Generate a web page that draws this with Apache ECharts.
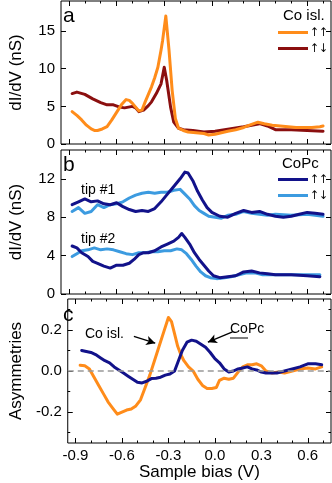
<!DOCTYPE html>
<html>
<head>
<meta charset="utf-8">
<script src="https://cdn.jsdelivr.net/npm/echarts@6/dist/echarts.min.js"></script>
<style>
  html, body { margin: 0; padding: 0; background: #fff; }
  #chart { width: 332px; height: 483px; }
</style>
</head>
<body>
<div id="chart"></div>
<script>
// panel a: Co island, dI/dV (nS)
var aUpUpX   = [-0.88,-0.85,-0.82,-0.79,-0.76,-0.74,-0.72,-0.69,-0.66,-0.63,-0.60,-0.57,-0.54,-0.52,-0.50,-0.48,-0.46,-0.44,-0.42,-0.40,-0.38,-0.36,-0.34,-0.32,-0.31,-0.29,-0.27,-0.25,-0.23,-0.21,-0.18,-0.15,-0.10,-0.05,-0.02,0.02,0.06,0.10,0.15,0.20,0.25,0.29,0.33,0.38,0.43,0.48,0.53,0.58,0.63,0.68,0.70];
var aUpUpY   = [4.3,3.8,3.2,2.5,2.0,1.8,1.8,2.0,2.3,3.2,4.2,5.2,5.9,5.8,5.4,4.9,4.4,4.5,5.6,6.6,7.6,8.8,10.2,12.5,13.8,17.0,12.5,7.1,3.4,2.1,1.8,1.6,1.5,1.4,1.2,1.3,1.5,1.7,1.9,2.2,2.6,2.9,2.7,2.5,2.4,2.3,2.2,2.2,2.2,2.3,2.4];
var aUpDownX = [-0.88,-0.85,-0.80,-0.75,-0.70,-0.66,-0.62,-0.58,-0.55,-0.50,-0.48,-0.46,-0.43,-0.40,-0.38,-0.35,-0.32,-0.30,-0.285,-0.26,-0.24,-0.21,-0.18,-0.12,-0.05,0.02,0.11,0.20,0.30,0.35,0.40,0.50,0.60,0.70];
var aUpDownY = [6.7,6.9,6.6,6.0,5.5,5.2,5.2,4.9,4.8,5.0,4.8,4.3,4.5,5.1,5.6,6.7,8.0,10.2,8.5,4.9,2.9,2.1,1.9,1.8,1.6,1.7,2.0,2.3,2.7,2.4,1.9,1.9,1.8,1.7];

// panel b: CoPc, dI/dV (nS), two tips
var bUpUp1X = [-0.88,-0.84,-0.80,-0.76,-0.72,-0.68,-0.64,-0.60,-0.56,-0.52,-0.48,-0.44,-0.40,-0.36,-0.32,-0.28,-0.24,-0.20,-0.17,-0.15,-0.12,-0.09,-0.06,-0.03,0.00,0.05,0.10,0.15,0.20,0.25,0.30,0.35,0.40,0.45,0.50,0.55,0.60,0.65,0.70];
var bUpUp1Y = [9.3,9.6,9.9,9.6,9.7,9.4,9.3,9.5,9.1,8.8,8.6,8.7,8.6,8.9,9.6,10.4,11.2,12.0,12.7,12.6,11.8,10.7,9.8,9.0,8.5,8.1,8.0,8.4,8.7,8.5,8.6,8.3,8.1,8.0,8.1,8.3,8.5,8.4,8.3];
var bUpDown1X = [-0.88,-0.84,-0.80,-0.76,-0.72,-0.68,-0.64,-0.60,-0.56,-0.52,-0.48,-0.44,-0.40,-0.36,-0.32,-0.28,-0.24,-0.20,-0.17,-0.14,-0.11,-0.08,-0.05,-0.02,0.02,0.06,0.10,0.15,0.20,0.25,0.30,0.35,0.40,0.50,0.60,0.70];
var bUpDown1Y = [8.6,9.0,8.4,8.6,9.3,9.0,9.3,9.4,9.6,10.0,10.3,10.5,10.6,10.5,10.6,10.6,10.8,10.9,10.4,9.9,9.2,8.7,8.4,8.1,8.0,7.9,8.2,8.3,8.6,8.4,8.3,8.2,8.3,8.2,8.3,8.1];
var bUpUp2X = [-0.88,-0.85,-0.82,-0.78,-0.75,-0.72,-0.68,-0.64,-0.60,-0.56,-0.52,-0.49,-0.46,-0.43,-0.40,-0.36,-0.32,-0.28,-0.24,-0.21,-0.19,-0.17,-0.14,-0.11,-0.08,-0.05,-0.02,0.01,0.05,0.10,0.15,0.20,0.25,0.30,0.35,0.40,0.50,0.60,0.68];
var bUpUp2Y = [5.0,4.8,4.3,3.9,3.4,3.2,2.9,2.7,3.0,3.0,3.2,3.6,4.1,4.3,4.3,4.5,4.9,5.2,5.5,5.9,6.3,5.9,5.2,4.3,3.6,3.0,2.4,1.9,1.7,1.8,1.9,2.3,2.4,2.2,2.1,2.0,2.0,1.9,1.8];
var bUpDown2X = [-0.88,-0.85,-0.82,-0.78,-0.74,-0.70,-0.66,-0.62,-0.58,-0.54,-0.50,-0.46,-0.42,-0.38,-0.34,-0.30,-0.26,-0.22,-0.19,-0.16,-0.13,-0.10,-0.07,-0.04,-0.01,0.03,0.08,0.12,0.17,0.22,0.27,0.32,0.40,0.50,0.60,0.68];
var bUpDown2Y = [3.9,4.2,4.5,4.6,4.8,4.6,4.7,4.6,4.4,4.2,4.1,4.3,4.3,4.4,4.4,4.5,4.5,4.7,4.6,4.2,3.6,2.9,2.3,1.9,1.7,1.6,1.7,1.8,2.0,2.2,2.2,2.0,2.0,2.0,2.0,2.0];

// panel c: asymmetries
var cCoX = [-0.87,-0.84,-0.81,-0.78,-0.75,-0.72,-0.69,-0.66,-0.63,-0.60,-0.57,-0.54,-0.51,-0.48,-0.45,-0.42,-0.39,-0.36,-0.33,-0.30,-0.28,-0.26,-0.24,-0.22,-0.20,-0.17,-0.14,-0.11,-0.08,-0.05,-0.02,0.01,0.03,0.06,0.09,0.12,0.15,0.18,0.21,0.24,0.27,0.30,0.33,0.37,0.41,0.45,0.50,0.55,0.60,0.65,0.69];
var cCoY = [0.028,0.025,0.01,-0.03,-0.07,-0.11,-0.15,-0.18,-0.21,-0.20,-0.19,-0.185,-0.17,-0.14,-0.08,-0.02,0.05,0.12,0.19,0.26,0.24,0.18,0.12,0.08,0.05,0.02,0.0,-0.04,-0.07,-0.085,-0.085,-0.08,-0.045,-0.035,-0.04,-0.035,-0.005,0.02,0.03,0.03,0.035,0.025,0.0,-0.01,-0.005,-0.01,0.0,0.01,0.015,0.01,0.02];
var cPcX = [-0.86,-0.83,-0.80,-0.77,-0.74,-0.71,-0.68,-0.65,-0.62,-0.59,-0.56,-0.53,-0.50,-0.47,-0.44,-0.41,-0.38,-0.35,-0.32,-0.29,-0.26,-0.24,-0.21,-0.18,-0.15,-0.12,-0.09,-0.06,-0.03,0.00,0.03,0.06,0.09,0.12,0.15,0.18,0.21,0.24,0.27,0.30,0.33,0.36,0.40,0.45,0.50,0.55,0.60,0.65,0.69];
var cPcY = [0.10,0.095,0.09,0.08,0.065,0.05,0.04,0.02,0.005,-0.01,-0.025,-0.04,-0.055,-0.058,-0.05,-0.037,-0.035,-0.03,-0.02,-0.015,0.0,0.04,0.10,0.14,0.15,0.145,0.13,0.115,0.09,0.06,0.04,0.01,-0.005,0.0,0.01,0.015,0.02,0.01,0.005,-0.005,-0.01,-0.01,-0.01,0.0,0.01,0.02,0.035,0.035,0.03];

// ticks
var xMajor = [-0.9,-0.6,-0.3,0,0.3,0.6];
var xMinor = [-0.8,-0.7,-0.5,-0.4,-0.2,-0.1,0.1,0.2,0.4,0.5,0.7];
var aYTicks = [0,5,10,15];
var bYTicks = [0,4,8,12];
var cYTicks = [-0.2,0,0.2];
var cYMinor = [-0.3,-0.1,0.1,0.3];

var ORANGE = '#ff8c1a', DARKRED = '#8b0f0f', NAVY = '#12128a', LIGHTBLUE = '#3c9be0';
var FONT = 'Liberation Sans, Arial, sans-serif';

function pairs(xs, ys){
  return xs.map(function(x, i){ return [x, ys[i]]; });
}

var grids = [
  {left: 56, right: 1, top: 1, height: 143},
  {left: 56, right: 1, top: 150, height: 144},
  {left: 56, right: 1, top: 299, height: 144}
].map(function(g){
  g.show = true; g.borderColor = '#000'; g.borderWidth = 1; g.backgroundColor = 'transparent';
  return g;
});

var xAxis = [], yAxis = [];
// x axes: 4 per grid (bottom major, bottom minor, top major, top minor)
[0,1,2].forEach(function(gi){
  [['bottom', xMajor, 5], ['bottom', xMinor, 2.5], ['top', xMajor, 5], ['top', xMinor, 2.5]].forEach(function(d, k){
    var withLabel = gi === 2 && k === 0;
    xAxis.push({
      gridIndex: gi, type: 'value', position: d[0], min: -0.95, max: 0.75,
      axisLine: {show: false, onZero: false}, splitLine: {show: false},
      axisTick: {inside: true, length: d[2], customValues: d[1], lineStyle: {color: '#000', width: 1}},
      axisLabel: {show: withLabel, customValues: xMajor, color: '#000', fontSize: 15, fontFamily: FONT, margin: 5,
        formatter: function(v){ return v.toFixed(1); }},
      name: withLabel ? 'Sample bias (V)' : '', nameLocation: 'middle', nameGap: 21,
      nameTextStyle: {color: '#000', fontSize: 17, fontFamily: FONT}
    });
  });
});

function yAxes(gi, min, max, major, minor, name, fmt){
  var list = [];
  [['left', major, 5, true], ['right', major, 5, false]].forEach(function(d){
    list.push({
      gridIndex: gi, type: 'value', position: d[0], min: min, max: max,
      axisLine: {show: false, onZero: false}, splitLine: {show: false},
      axisTick: {inside: true, length: d[2], customValues: d[1], lineStyle: {color: '#000'}},
      axisLabel: {show: d[3], customValues: major, color: '#000', fontSize: 15, fontFamily: FONT, margin: 6, formatter: fmt},
      name: d[3] ? name : '', nameLocation: 'middle', nameGap: 36, nameRotate: 90,
      nameTextStyle: {color: '#000', fontSize: 17, fontFamily: FONT}
    });
  });
  if (minor) {
    ['left', 'right'].forEach(function(p){
      list.push({
        gridIndex: gi, type: 'value', position: p, min: min, max: max,
        axisLine: {show: false, onZero: false}, splitLine: {show: false},
        axisTick: {inside: true, length: 2.5, customValues: minor, lineStyle: {color: '#000'}},
        axisLabel: {show: false}
      });
    });
  }
  return list;
}
yAxis = yAxis.concat(yAxes(0, 0, 19, aYTicks, null, 'dI/dV (nS)', function(v){ return String(v); }));
yAxis = yAxis.concat(yAxes(1, 0, 15, bYTicks, null, 'dI/dV (nS)', function(v){ return String(v); }));
yAxis = yAxis.concat(yAxes(2, -0.35, 0.35, cYTicks, cYMinor, 'Asymmetries', function(v){ return v.toFixed(1); }));
// y axis indices: grid0 -> 0, grid1 -> 2, grid2 -> 4

function line(name, data, color, xi, yi, extra){
  var s = {
    name: name, type: 'line', data: data, xAxisIndex: xi, yAxisIndex: yi,
    showSymbol: false, symbol: 'none', smooth: false, silent: true,
    lineStyle: {color: color, width: 3, join: 'round', cap: 'round'},
    itemStyle: {color: color}
  };
  if (extra) { for (var k in extra) s[k] = extra[k]; }
  return s;
}

var arrowStyle = {color: '#000', width: 1.3, type: 'solid'};

var series = [
  line('a_ud', pairs(aUpDownX, aUpDownY), DARKRED, 0, 0),
  line('a_uu', pairs(aUpUpX, aUpUpY), ORANGE, 0, 0),
  line('b_ud', pairs(bUpDown1X, bUpDown1Y), LIGHTBLUE, 4, 2),
  line('b_ud', pairs(bUpDown2X, bUpDown2Y), LIGHTBLUE, 4, 2),
  line('b_uu', pairs(bUpUp1X, bUpUp1Y), NAVY, 4, 2),
  line('b_uu', pairs(bUpUp2X, bUpUp2Y), NAVY, 4, 2),
  line('c_co', pairs(cCoX, cCoY), ORANGE, 8, 4, {
    markLine: {
      silent: true, symbol: ['none', 'none'], label: {show: false},
      lineStyle: {color: '#999', type: [6, 4], width: 1.5},
      data: [{yAxis: 0}]
    }
  }),
  line('c_pc', pairs(cPcX, cPcY), NAVY, 8, 4, {
    markLine: {
      silent: true, symbol: ['none', 'arrow'], symbolSize: [7, 9], label: {show: false},
      lineStyle: arrowStyle,
      data: [
        [{coord: [-0.523, 0.168]}, {coord: [-0.385, 0.135]}],
        [{coord: [0.114, 0.19]}, {coord: [-0.045, 0.14]}]
      ]
    }
  })
];

var labelMap = {a_uu: '↑↑', a_ud: '↑↓', b_uu: '↑↑', b_ud: '↑↓'};
var legendBase = {
  orient: 'vertical', icon: 'rect', itemWidth: 30, itemHeight: 3, itemGap: 3,
  selectedMode: false, padding: 0,
  textStyle: {color: '#000', fontSize: 12, lineHeight: 13, fontFamily: 'DejaVu Sans Condensed, DejaVu Sans, sans-serif', padding: [0, 0, 0, -3]},
  formatter: function(n){ return labelMap[n]; }
};
function legendAt(data, left, top){
  var l = {}; for (var k in legendBase) l[k] = legendBase[k];
  l.data = data; l.left = left; l.top = top;
  return l;
}

function txt(x, y, s, size, extra){
  var t = {type: 'text', left: x, top: y, silent: true,
    style: {text: s, fill: '#000', font: size + 'px ' + FONT}};
  if (extra) { for (var k in extra) t.style[k] = extra[k]; }
  return t;
}

var chart = echarts.init(document.getElementById('chart'), null, {renderer: 'canvas'});
chart.setOption({
  animation: false,
  backgroundColor: '#fff',
  grid: grids,
  xAxis: xAxis,
  yAxis: yAxis,
  series: series,
  legend: [legendAt(['a_uu', 'a_ud'], 278, 26), legendAt(['b_uu', 'b_ud'], 278, 173)],
  graphic: [
    txt(63, 6, 'a', 21),
    txt(63, 155, 'b', 21),
    txt(63, 305, 'c', 21),
    txt(283, 8, 'Co isl.', 15),
    txt(282, 156, 'CoPc', 15),
    txt(81, 183, 'tip #1', 14),
    txt(81, 232, 'tip #2', 14),
    txt(85, 327, 'Co isl.', 14),
    txt(230, 322, 'CoPc', 14),
    {type: 'line', silent: true, shape: {x1: 230, y1: 338, x2: 248, y2: 338}, style: {stroke: '#000', lineWidth: 1}}
  ]
});
</script>
</body>
</html>
